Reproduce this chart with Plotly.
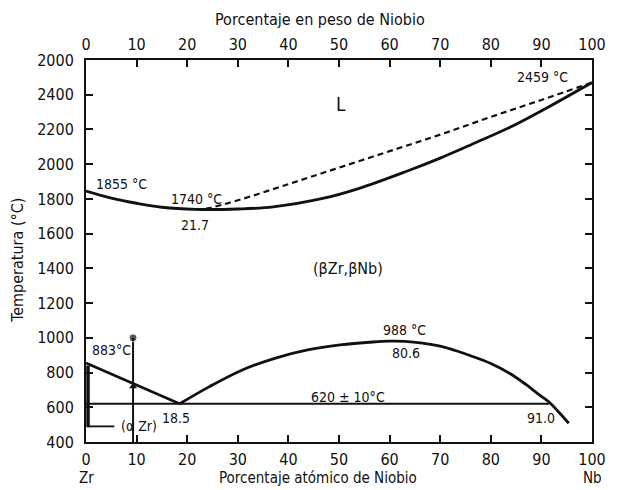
import plotly.graph_objects as go

# ---- data (at.% Nb, temperature °C) ----
solidus_x = [0, 5, 10, 15, 21.7, 30, 37, 47, 54, 63, 70, 76, 85, 91.5, 100]
solidus_t = [1845, 1805, 1775, 1752, 1740, 1742, 1754, 1804, 1861, 1955, 2035, 2111, 2230, 2331, 2470]

liquidus_x = [21.7, 24, 30, 40, 50, 60, 70, 80, 90, 100]
liquidus_t = [1740, 1746, 1792, 1885, 1980, 2075, 2170, 2272, 2370, 2470]

ab_x = [0, 18.5]
ab_t = [855, 620]

dome_x = [18.5, 24.4, 30.9, 37.3, 43.8, 50.2, 56.7, 60, 63, 66.5, 70, 73, 76, 80, 83.7, 87, 89.6, 91.5, 93.5, 95.4]
dome_t = [620, 719, 815, 882, 930, 959, 976, 981, 980, 970, 952, 927, 897, 852, 796, 730, 671, 630, 570, 508]

mono_x = [0, 91.5]
mono_t = [620, 620]

alpha_x = [0.4, 0.4]
alpha_t = [840, 485]

alpha_arrow_x = [0.4, 5.6]
alpha_arrow_t = [490, 490]

v10_x = [9.3, 9.3]
v10_t = [1000, 400]

y_ticks = [400, 600, 800, 1000, 1200, 1400, 1600, 1800, 2000, 2200, 2400, 2600]
y_labels = ["400", "600", "800", "1000", "1200", "1400", "1600", "1800", "2000", "2200", "2400", "2000"]
x_ticks = [0, 10, 20, 30, 40, 50, 60, 70, 80, 90, 100]

labels = [
    ("1855 °C", 7.0, 1885, 14),
    ("1740 °C", 21.9, 1797, 14),
    ("21.7", 21.6, 1650, 14),
    ("L", 50.4, 2345, 19),
    ("2459 °C", 90.3, 2505, 14),
    ("(βZr,βNb)", 51.8, 1402, 16),
    ("988 °C", 63.0, 1045, 14),
    ("80.6", 63.2, 913, 14),
    ("620 ± 10°C", 51.8, 660, 14),
    ("91.0", 90.0, 540, 14),
    ("18.5", 17.7, 540, 14),
    ("883°C", 5.0, 932, 14),
    ("(α Zr)", 10.4, 492, 14),
]

FONT = "DejaVu Sans Condensed, DejaVu Sans, Arial"
BLACK = "#111111"

fig = go.Figure()
fig.add_trace(go.Scatter(x=solidus_x, y=solidus_t, mode="lines",
                         line=dict(color=BLACK, width=2.8, shape="spline")))
fig.add_trace(go.Scatter(x=liquidus_x, y=liquidus_t, mode="lines",
                         line=dict(color=BLACK, width=2.2, dash="6px,4px", shape="spline")))
fig.add_trace(go.Scatter(x=ab_x, y=ab_t, mode="lines", line=dict(color=BLACK, width=2.6)))
fig.add_trace(go.Scatter(x=dome_x, y=dome_t, mode="lines",
                         line=dict(color=BLACK, width=2.8, shape="spline")))
fig.add_trace(go.Scatter(x=mono_x, y=mono_t, mode="lines", line=dict(color=BLACK, width=2)))
fig.add_trace(go.Scatter(x=alpha_x, y=alpha_t, mode="lines", line=dict(color=BLACK, width=3.5)))
fig.add_trace(go.Scatter(x=alpha_arrow_x, y=alpha_arrow_t, mode="lines", line=dict(color=BLACK, width=1.8)))
fig.add_trace(go.Scatter(x=v10_x, y=v10_t, mode="lines+markers", line=dict(color=BLACK, width=2),
                         marker=dict(size=[8, 0], color=BLACK)))
fig.add_trace(go.Scatter(x=[v10_x[0]], y=[720], mode="markers",
                         marker=dict(symbol="triangle-up", size=7, color=BLACK)))

for txt, x, y, s in labels:
    fig.add_annotation(x=x, y=y, text=txt, showarrow=False,
                       font=dict(family=FONT, size=s, color=BLACK))

fig.add_annotation(xref="paper", yref="paper", x=0.0, xanchor="center", y=-0.093, yanchor="middle",
                   text="Zr", showarrow=False, font=dict(family=FONT, size=15, color=BLACK))
fig.add_annotation(xref="paper", yref="paper", x=1.0, xanchor="center", y=-0.093, yanchor="middle",
                   text="Nb", showarrow=False, font=dict(family=FONT, size=15, color=BLACK))
fig.add_annotation(xref="paper", yref="paper", x=0.458, y=-0.093, yanchor="middle",
                   text="Porcentaje atómico de Niobio", showarrow=False,
                   font=dict(family=FONT, size=15, color=BLACK))
fig.add_annotation(xref="paper", yref="paper", x=0.462, y=1.105, yanchor="middle",
                   text="Porcentaje en peso de Niobio", showarrow=False,
                   font=dict(family=FONT, size=16, color=BLACK))
fig.add_annotation(xref="paper", yref="paper", x=-0.137, xanchor="center", y=0.476, textangle=-90,
                   text="Temperatura (°C)", showarrow=False,
                   font=dict(family=FONT, size=16, color=BLACK))

axis_common = dict(showgrid=False, zeroline=False, showline=True, linecolor=BLACK, linewidth=2,
                   ticks="inside", ticklen=7, tickwidth=1.6, tickcolor=BLACK,
                   tickfont=dict(family=FONT, size=16, color=BLACK))

fig.update_layout(
    width=618, height=490,
    margin=dict(l=86, r=15, t=60, b=48),
    paper_bgcolor="white", plot_bgcolor="white",
    showlegend=False,
    xaxis=dict(range=[0, 100], tickvals=x_ticks, ticklabelstandoff=2, **axis_common),
    xaxis2=dict(range=[0, 100], tickvals=x_ticks, overlaying="x", side="top", anchor="y",
                ticklabelstandoff=2, **axis_common),
    yaxis=dict(range=[400, 2600], tickvals=y_ticks, ticktext=y_labels, mirror="ticks",
               ticklabelstandoff=7, **axis_common),
)
# invisible trace so the top axis is drawn
fig.add_trace(go.Scatter(x=[0], y=[400], xaxis="x2", mode="markers", marker=dict(size=0, opacity=0)))

fig.write_html("out.html")
